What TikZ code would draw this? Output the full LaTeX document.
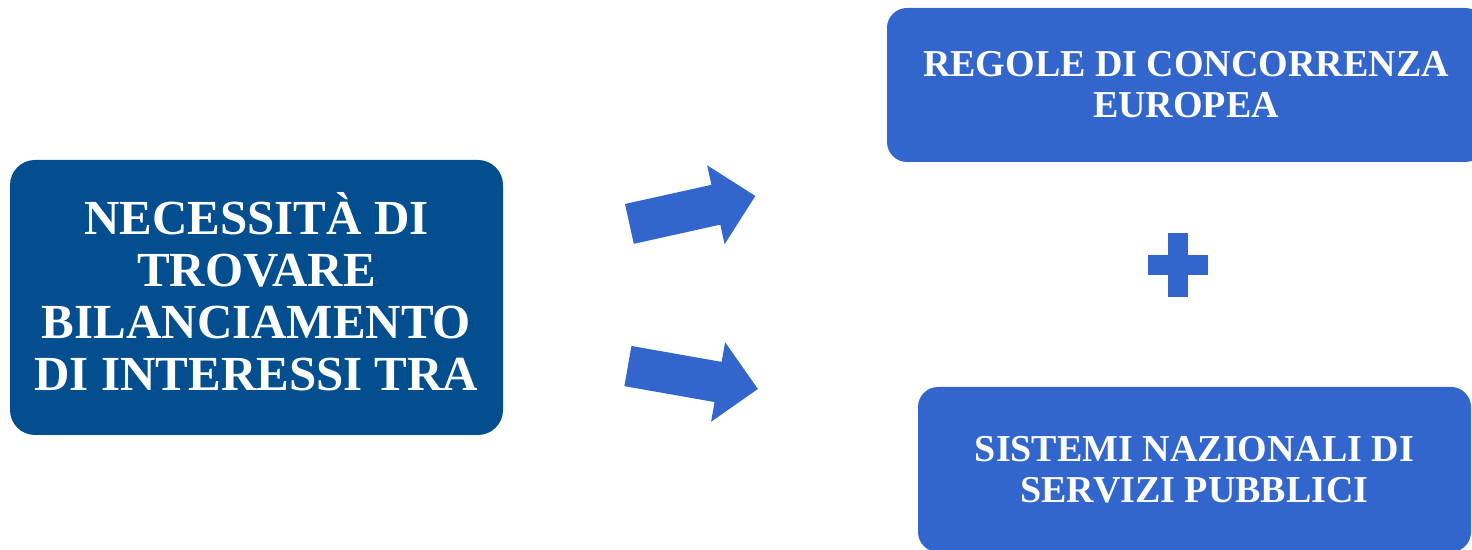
\documentclass[tikz,border=0pt]{standalone}
\usepackage{fontspec}
\setmainfont{Liberation Serif}
\usepackage{tikz}
\usetikzlibrary{shapes.arrows}
\usepackage{xcolor}
\definecolor{darkblue}{HTML}{034E8F}
\definecolor{midblue}{HTML}{3366CC}

\begin{document}
\begin{tikzpicture}[x=0.5pt,y=-0.5pt]
  \tikzstyle{bigbox}=[rectangle,rounded corners=12.5pt,fill=darkblue,text=white,align=center,
    inner sep=0pt,text depth=6pt,font=\fontsize{24.5}{26}\selectfont\bfseries]
  \tikzstyle{sidebox}=[rectangle,rounded corners=10pt,fill=midblue,text=white,align=center,
    inner sep=0pt,font=\fontsize{19}{20.5}\selectfont\bfseries]
  \tikzstyle{blockarrow}=[single arrow,fill=midblue,inner xsep=0pt,inner ysep=10pt,minimum width=40pt,
    single arrow head extend=10pt,single arrow head indent=0pt,anchor=tail]

  \useasboundingbox (0,0) rectangle (1472,550);

  \node[bigbox,minimum width=246.5pt,minimum height=137.5pt] (need) at (256.5,297.5)
    {NECESSITÀ DI\\TROVARE\\BILANCIAMENTO\\DI INTERESSI TRA};
  \node[sidebox,minimum width=299pt,minimum height=77pt] (rules) at (1186,85)
    {REGOLE DI CONCORRENZA\\EUROPEA};
  \node[sidebox,minimum width=276.5pt,minimum height=82.5pt] (services) at (1194.5,469.5)
    {SISTEMI NAZIONALI DI\\SERVIZI PUBBLICI};

  \node[blockarrow,minimum height=64.5pt,rotate=12.5] (arrUp) at (629,224) {};
  \node[blockarrow,minimum height=66pt,rotate=-10] (arrDown) at (627.5,366) {};

  % plus sign
  \fill[midblue] (1168,233) rectangle (1188,297);
  \fill[midblue] (1148,255) rectangle (1208,275);
\end{tikzpicture}
\end{document}
